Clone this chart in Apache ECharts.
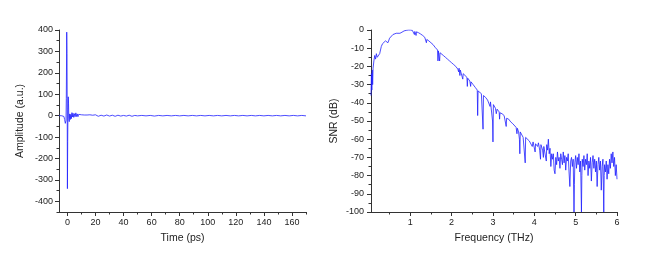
<!DOCTYPE html>
<html>
<head>
<meta charset="utf-8">
<script src="https://cdn.jsdelivr.net/npm/echarts@6/dist/echarts.min.js"></script>
<style>
  html, body { margin: 0; padding: 0; background: #fff; }
  #main { width: 650px; height: 256px; }
</style>
</head>
<body>
<div id="main"></div>
<script>
// time domain pulse, [ps, a.u.]
var pulseData = [
  [-6, 0], [-5, 0.5], [-4, -0.5], [-3, 0], [-2.5, -4], [-2, -18], [-1.5, -36], [-1, -22],
  [-0.8, 80], [-0.5, 390], [-0.3, 290], [-0.15, 40], [0, -341], [0.2, -120], [0.4, 30],
  [0.6, 88], [0.8, 55], [1, -12], [1.3, -28], [1.6, 8], [2, -18], [2.4, 6], [2.8, -14],
  [3.2, 14], [3.6, -6], [4, 11], [4.5, -8], [5, 9], [5.5, -5], [6, 13], [6.5, -4], [7, 8],
  [7.5, -5], [8, 6], [9, -3], [10, 4], [11, -2], [12, 3], [13, -4], [14, 3], [15, -3],
  [16, 4], [17, -5], [18, 2], [19, -3], [20, 4], [22, -3], [24, 2], [26, -2], [28, 3],
  [30, -2], [32, 2], [34, -3], [36, 2], [38, -2], [40, 1], [42, -2], [44, 2], [46, -3],
  [48, 1], [50, -1], [53, 1], [56, -1], [59, 1], [62, -2], [65, 1], [68, -1], [71, 1],
  [74, -1], [77, 1], [80, -1], [83, 1], [86, -1], [89, 1], [92, -1], [95, 1], [98, -1],
  [101, 1], [104, -1], [107, 1], [110, -1], [113, 1], [116, -1], [119, 1], [122, -1],
  [125, 1], [128, -1], [131, 1], [134, -1], [137, 1], [140, -1], [143, 1], [146, -1],
  [149, 1], [152, -1], [155, 1], [158, -1], [161, 1], [164, -1], [167, 1], [170, -1]
];

// SNR spectrum, [THz, dB]
var snrData = [
  [0.05, -36], [0.06, -24], [0.07, -33], [0.08, -22], [0.09, -30], [0.1, -21], [0.12, -17],
  [0.14, -14], [0.16, -16], [0.18, -13], [0.2, -15], [0.22, -14], [0.24, -16], [0.26, -13],
  [0.28, -12], [0.3, -9], [0.33, -7.5], [0.36, -6.5], [0.4, -6], [0.43, -6.5], [0.46, -7],
  [0.5, -4.5], [0.54, -3.5], [0.58, -2.5], [0.62, -2], [0.66, -1.8], [0.7, -1.9], [0.75, -1.8],
  [0.8, -1.2], [0.85, -0.5], [0.9, -0.2], [0.95, 0], [1.0, 0], [1.05, -0.2], [1.08, -0.5],
  [1.1, -2.5], [1.11, -0.8], [1.14, -3], [1.15, -1], [1.2, -1.5], [1.25, -2.2], [1.3, -3],
  [1.35, -4], [1.38, -5], [1.39, -7], [1.4, -5.2], [1.45, -6], [1.5, -7], [1.55, -8],
  [1.6, -9.5], [1.64, -10.5], [1.66, -11], [1.67, -17], [1.68, -11.5], [1.7, -12], [1.71, -17],
  [1.72, -12.5], [1.75, -13], [1.8, -14], [1.85, -15], [1.9, -16], [1.95, -17], [2.0, -18],
  [2.05, -19], [2.1, -20], [2.15, -21.5], [2.17, -23], [2.18, -21], [2.2, -25], [2.21, -22],
  [2.25, -23], [2.27, -27], [2.28, -24], [2.32, -25], [2.37, -26], [2.38, -31], [2.39, -26.5],
  [2.44, -28], [2.46, -31], [2.47, -28.5], [2.52, -30], [2.57, -31.5], [2.6, -32.5], [2.62, -33],
  [2.63, -47], [2.64, -33.5], [2.68, -34], [2.72, -35], [2.75, -36], [2.76, -54.5], [2.77, -36],
  [2.82, -37], [2.87, -38.5], [2.9, -39], [2.93, -42], [2.94, -39.5], [2.98, -40.5], [2.99, -50],
  [3.0, -61.5], [3.01, -41], [3.06, -43], [3.08, -46], [3.1, -43.5], [3.15, -45], [3.16, -49],
  [3.17, -45.5], [3.22, -46], [3.27, -47], [3.3, -48], [3.32, -53], [3.33, -48.5], [3.38, -49],
  [3.43, -50.5], [3.48, -51.5], [3.52, -52], [3.56, -53.5], [3.58, -57], [3.59, -54], [3.62, -56],
  [3.64, -60], [3.65, -68], [3.66, -56], [3.7, -57], [3.73, -59], [3.75, -58], [3.78, -73],
  [3.79, -59], [3.83, -60], [3.88, -61], [3.92, -62], [3.95, -64], [3.97, -61.5], [4.0, -62],
  [4.02, -67], [4.03, -62.5], [4.08, -64], [4.1, -62], [4.13, -66], [4.15, -71], [4.16, -63],
  [4.2, -66], [4.22, -70], [4.23, -64], [4.27, -65], [4.29, -72], [4.3, -63], [4.32, -66],
  [4.34, -60], [4.36, -68], [4.38, -65], [4.4, -75], [4.42, -68], [4.44, -71], [4.46, -68],
  [4.48, -77], [4.5, -79], [4.52, -70], [4.54, -74], [4.56, -67], [4.58, -72], [4.6, -70],
  [4.62, -76], [4.64, -68], [4.66, -71], [4.68, -74], [4.7, -67], [4.72, -73], [4.74, -69],
  [4.76, -77], [4.78, -70], [4.8, -72], [4.82, -68], [4.84, -78], [4.86, -86], [4.88, -72],
  [4.9, -70], [4.92, -75], [4.94, -71], [4.96, -100], [4.97, -85], [4.98, -73], [5.0, -69],
  [5.02, -76], [5.04, -70], [5.06, -74], [5.08, -68], [5.1, -78], [5.12, -72], [5.14, -100],
  [5.15, -80], [5.16, -71], [5.18, -75], [5.2, -69], [5.22, -77], [5.24, -71], [5.26, -74],
  [5.28, -68], [5.3, -80], [5.32, -72], [5.34, -76], [5.36, -70], [5.38, -83], [5.4, -73],
  [5.42, -69], [5.44, -76], [5.46, -71], [5.48, -78], [5.5, -72], [5.52, -86], [5.54, -74],
  [5.56, -70], [5.58, -77], [5.6, -72], [5.62, -88], [5.64, -75], [5.66, -71], [5.68, -100],
  [5.69, -80], [5.7, -74], [5.72, -78], [5.74, -72], [5.76, -82], [5.78, -74], [5.8, -79],
  [5.82, -71], [5.84, -76], [5.86, -68], [5.88, -73], [5.9, -67], [5.92, -75], [5.94, -70],
  [5.96, -80], [5.98, -74], [6.0, -82]
];

// ticks
var timeTicks = [0, 20, 40, 60, 80, 100, 120, 140, 160];
var timeMinor = [10, 30, 50, 70, 90, 110, 130, 150, 170];
var ampTicks = [-400, -300, -200, -100, 0, 100, 200, 300, 400];
var ampMinor = [-450, -350, -250, -150, -50, 50, 150, 250, 350];
var freqTicks = [1, 2, 3, 4, 5, 6];
var freqMinor = [0.5, 1.5, 2.5, 3.5, 4.5, 5.5];

var font = 'Liberation Sans, Arial, sans-serif';
var axisCol = '#333';
var lineCol = '#1f1fff';

function majorAxis(o) {
  return Object.assign({
    type: 'value',
    axisLine: { show: true, onZero: false, lineStyle: { color: axisCol, width: 1 } },
    axisTick: { show: true, length: 4, lineStyle: { color: axisCol } },
    splitLine: { show: false },
    axisLabel: { color: '#222', fontSize: 9, fontFamily: font },
    nameTextStyle: { color: '#222', fontSize: 10.5, fontFamily: font },
    nameLocation: 'middle'
  }, o);
}
function minorAxis(o) {
  return Object.assign({
    type: 'value',
    axisLine: { show: false, onZero: false },
    axisLabel: { show: false },
    splitLine: { show: false }
  }, o);
}

var myChart = echarts.init(document.getElementById('main'));

var option = {
  animation: false,
  backgroundColor: '#fff',
  grid: [
    { left: 59, top: 30, width: 247, height: 182 },
    { left: 371, top: 30, width: 246, height: 182 }
  ],
  xAxis: [
    majorAxis({
      gridIndex: 0, position: 'bottom', min: -6, max: 170, name: 'Time (ps)', nameGap: 21,
      axisTick: { show: true, length: 4, customValues: timeTicks, lineStyle: { color: axisCol } },
      axisLabel: { color: '#222', fontSize: 9, fontFamily: font, margin: 6, customValues: timeTicks }
    }),
    minorAxis({
      gridIndex: 0, position: 'bottom', min: -6, max: 170,
      axisTick: { show: true, length: 2.5, customValues: timeMinor, lineStyle: { color: axisCol } }
    }),
    majorAxis({
      gridIndex: 1, position: 'bottom', min: 0.05, max: 6, name: 'Frequency (THz)', nameGap: 21,
      axisTick: { show: true, length: 4, customValues: freqTicks, lineStyle: { color: axisCol } },
      axisLabel: { color: '#222', fontSize: 9, fontFamily: font, margin: 6, customValues: freqTicks }
    }),
    minorAxis({
      gridIndex: 1, position: 'bottom', min: 0.05, max: 6,
      axisTick: { show: true, length: 2.5, customValues: freqMinor, lineStyle: { color: axisCol } }
    })
  ],
  yAxis: [
    majorAxis({
      gridIndex: 0, position: 'left', min: -450, max: 400, name: 'Amplitude (a.u.)', nameGap: 33,
      axisTick: { show: true, length: 4, customValues: ampTicks, lineStyle: { color: axisCol } },
      axisLabel: { color: '#222', fontSize: 9, fontFamily: font, margin: 6, customValues: ampTicks }
    }),
    minorAxis({
      gridIndex: 0, position: 'left', min: -450, max: 400,
      axisTick: { show: true, length: 2.5, customValues: ampMinor, lineStyle: { color: axisCol } }
    }),
    majorAxis({
      gridIndex: 1, position: 'left', min: -100, max: 0, interval: 10, name: 'SNR (dB)', nameGap: 31,
      axisLabel: { color: '#222', fontSize: 9, fontFamily: font, margin: 7 },
      minorTick: { show: true, splitNumber: 2, length: 2.5, lineStyle: { color: axisCol } }
    })
  ],
  series: [
    {
      type: 'line', xAxisIndex: 0, yAxisIndex: 0, data: pulseData,
      showSymbol: false, lineStyle: { color: lineCol, width: 0.8 }
    },
    {
      type: 'line', xAxisIndex: 2, yAxisIndex: 2, data: snrData,
      showSymbol: false, lineStyle: { color: lineCol, width: 0.8 }
    }
  ]
};

option && myChart.setOption(option);
</script>
</body>
</html>
